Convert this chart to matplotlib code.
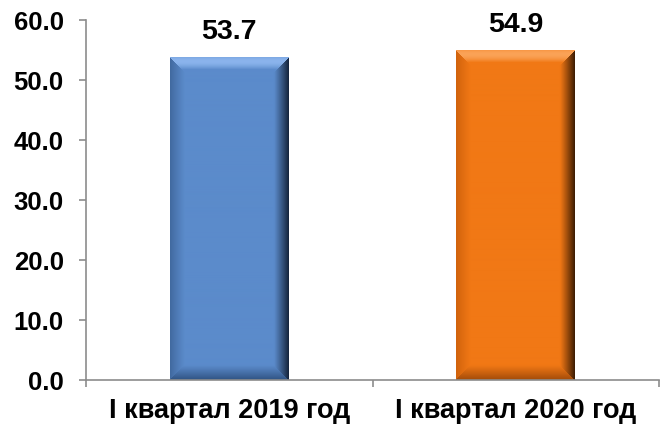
import numpy as np
import matplotlib
matplotlib.use("Agg")
import matplotlib.pyplot as plt
from matplotlib.colors import to_rgb

categories = ['I квартал 2019 год', 'I квартал 2020 год']
values = [53.7, 54.9]
labels = ['53.7', '54.9']

# base, top bevel, right bevel, bottom bevel, left bevel
palettes = [
    ('#5B8BCB', '#8DB6EE', '#14233A', '#2F5282', '#41699F'),
    ('#F17815', '#FBA55A', '#3A1A02', '#A14A08', '#D0620C'),
]

plt.rcParams['font.family'] = ['Liberation Sans', 'DejaVu Sans']
plt.rcParams['font.weight'] = 'bold'

fig = plt.figure(figsize=(6.6, 4.25), dpi=100)
ax = fig.add_axes([86 / 660, 45 / 425, 573 / 660, 360 / 425])

x = np.arange(len(categories))
bars = ax.bar(x, values, width=0.415, color=[p[0] for p in palettes], zorder=2)

# bevel effect: per-pixel image laid over each bar
bev = 15.0
px_x = 573 / 2.0
px_y = 360 / 60.0
for bar, pal in zip(bars, palettes):
    x0, y0 = bar.get_x(), bar.get_y()
    w, h = bar.get_width(), bar.get_height()
    W, H = int(round(w * px_x)), int(round(h * px_y))
    U, V = np.meshgrid(np.arange(W) + 0.5, np.arange(H) + 0.5)  # V = 0 at top row
    dists = np.stack([V, W - U, H - V, U])   # top, right, bottom, left
    side = np.argmin(dists, axis=0)
    t = np.clip(np.min(dists, axis=0) / bev, 0, 1)
    base = np.array(to_rgb(pal[0]))
    edge = np.array([to_rgb(c) for c in pal[1:]])[side]
    k = (1 - t) ** 1.1
    k = np.where(side == 0, np.sin(np.pi * np.clip(t * 0.9 + 0.25, 0, 1)) * 0.95, k)
    img = base * (1 - k[..., None]) + edge * k[..., None]
    ax.imshow(img, extent=(x0, x0 + w, y0, y0 + h), origin='upper',
              aspect='auto', interpolation='bilinear', zorder=3)

ax.set_xlim(-0.5, 1.5)
ax.set_ylim(0, 60)

for bar, lab in zip(bars, labels):
    ax.annotate(lab, (bar.get_x() + bar.get_width() / 2, bar.get_height()),
                xytext=(0, 9), textcoords='offset points', ha='center', va='bottom',
                fontsize=20.5, fontweight='bold')

for s in ['top', 'right']:
    ax.spines[s].set_visible(False)
for s in ['left', 'bottom']:
    ax.spines[s].set_color('#8C8C8C')
    ax.spines[s].set_linewidth(1.2)
    ax.spines[s].set_zorder(4)

ax.set_yticks(np.arange(0, 61, 10))
ax.set_yticklabels([f'{v:.1f}' for v in np.arange(0, 61, 10)])
ax.tick_params(axis='y', direction='out', length=5, color='#8C8C8C', width=1.2,
               pad=11, labelsize=18.5)

ax.set_xticks([-0.5, 0.5, 1.5])
ax.set_xticklabels([])
ax.tick_params(axis='x', which='major', direction='out', length=5,
               color='#8C8C8C', width=1.2)
ax.set_xticks(x, minor=True)
ax.set_xticklabels(categories, minor=True)
ax.tick_params(axis='x', which='minor', length=0, pad=13, labelsize=19.5)

fig.savefig('out.png', dpi=100)
